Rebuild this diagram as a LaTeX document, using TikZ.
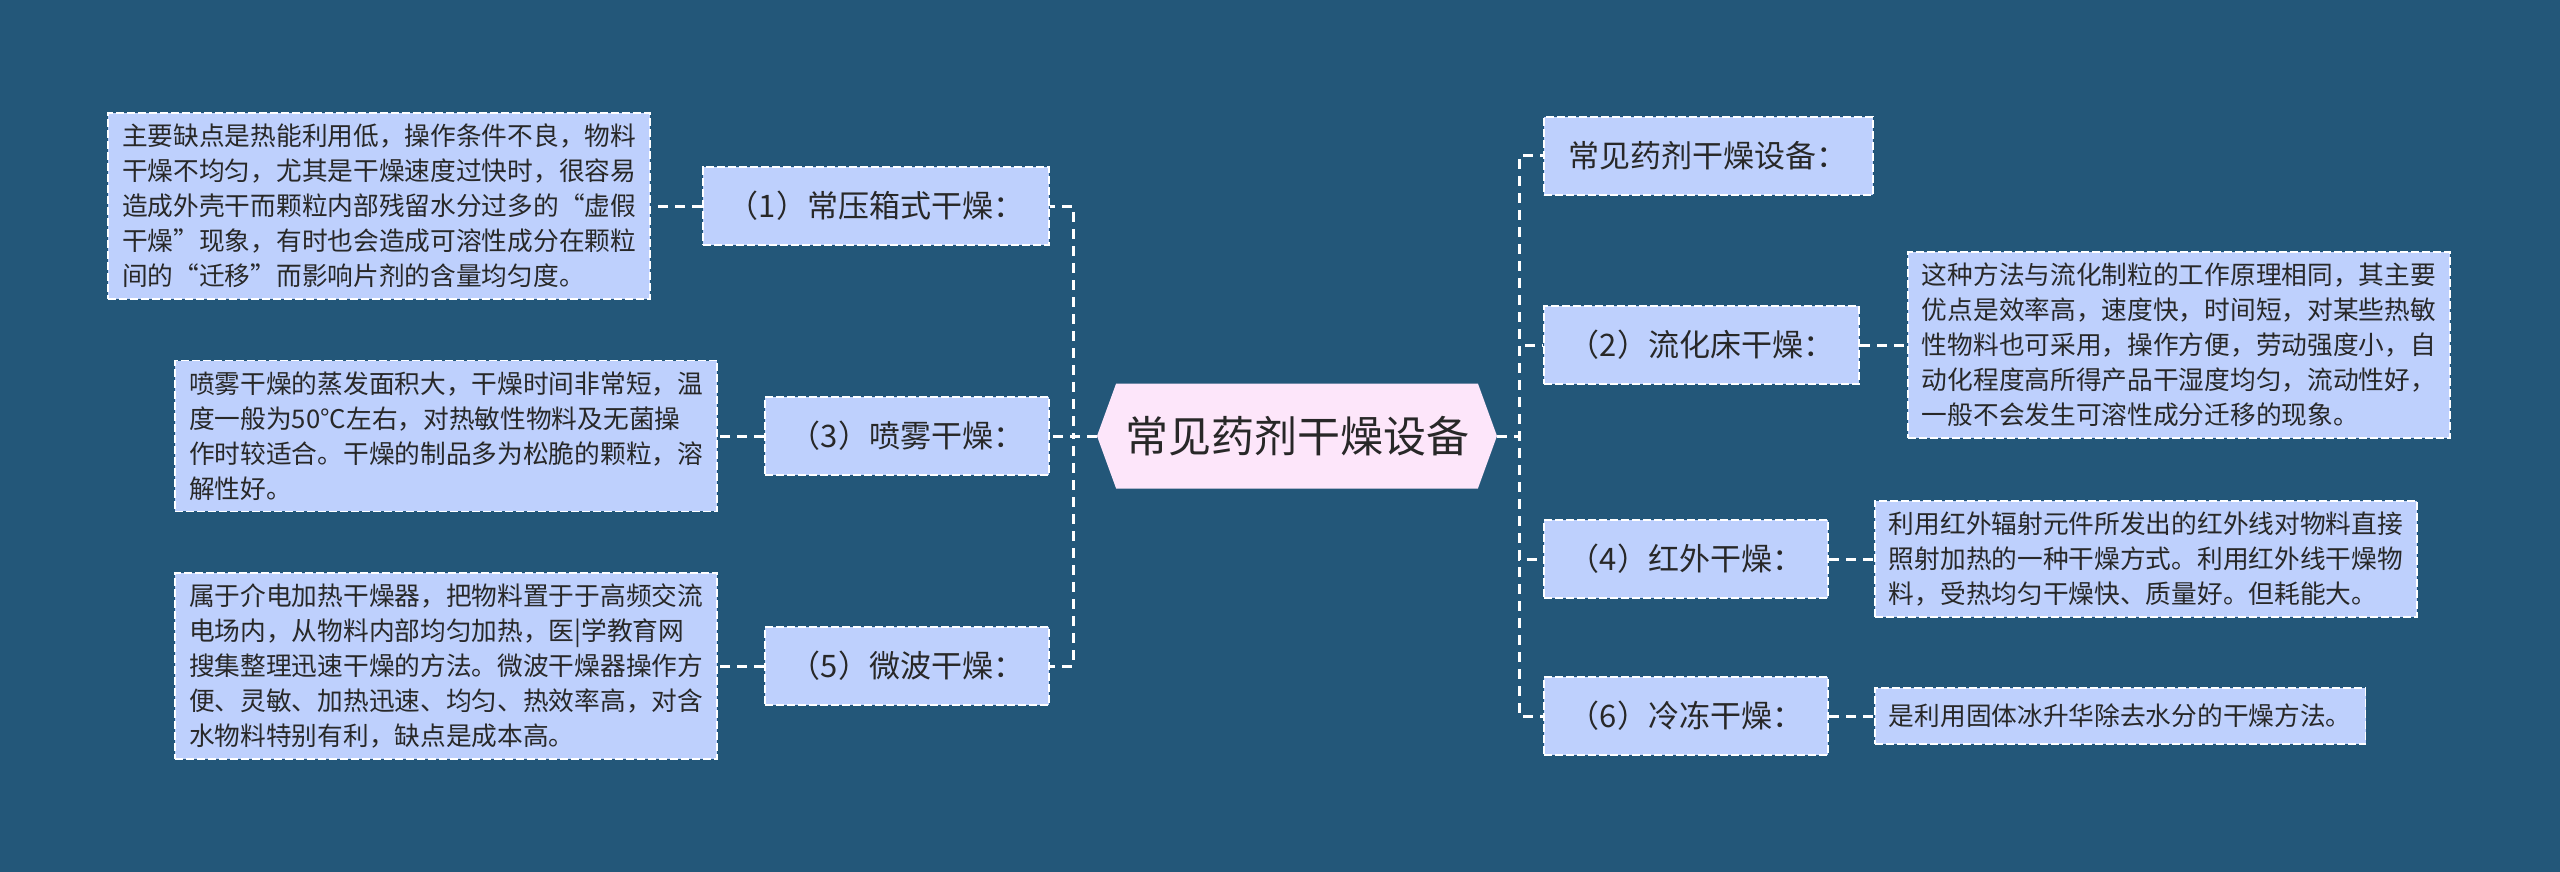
\documentclass[tikz,border=0pt]{standalone}
\usepackage{fontspec}
\setmainfont{Noto Sans CJK SC}
\usetikzlibrary{shapes.symbols}
\definecolor{bgblue}{RGB}{35,87,121}
\definecolor{boxblue}{RGB}{190,208,253}
\definecolor{rootpink}{RGB}{253,230,250}
\definecolor{inkgray}{RGB}{40,40,40}
\tikzset{
  rootnode/.style={shape=signal, signal to=west and east, signal pointer angle=140,
    fill=rootpink, text=inkgray, font=\fontsize{21.5pt}{26pt}\selectfont,
    minimum width=200pt, minimum height=52.5pt, inner sep=0pt},
  branchnode/.style={fill=boxblue, draw=white, line width=0.9pt, dash pattern=on 4pt off 1.5pt,
    text=inkgray, font=\fontsize{15.5pt}{19pt}\selectfont, minimum height=39pt, inner xsep=12.5pt},
  leafnode/.style={fill=boxblue, draw=white, line width=0.9pt, dash pattern=on 4pt off 1.5pt,
    text=inkgray, font=\fontsize{12.85pt}{17.5pt}\selectfont, align=left, inner xsep=7pt, inner ysep=5.5pt,
    minimum height=28pt},
  link/.style={draw=white, line width=1.5pt, dash pattern=on 5pt off 3.5pt},
}
\begin{document}
\begin{tikzpicture}[x=0.5pt, y=-0.5pt]
  \fill[bgblue] (0,0) rectangle (2560,872);
  \useasboundingbox (0,0) rectangle (2560,872);
  % centre
  \node[rootnode] (root) at (1297,436) {常见药剂干燥设备};
  \coordinate (lhub) at (1073,436);
  \coordinate (rhub) at (1519,436);
  % left side
  \node[branchnode, anchor=east] (b1) at (1050,206) {（1）常压箱式干燥：};
  \node[branchnode, anchor=east] (b3) at (1050,436) {（3）喷雾干燥：};
  \node[branchnode, anchor=east] (b5) at (1050,666) {（5）微波干燥：};
  \node[leafnode, anchor=east] (d1) at (651,206) {主要缺点是热能利用低，操作条件不良，物料\\干燥不均匀，尤其是干燥速度过快时，很容易\\造成外壳干而颗粒内部残留水分过多的“虚假\\干燥”现象，有时也会造成可溶性成分在颗粒\\间的“迁移”而影响片剂的含量均匀度。};
  \node[leafnode, anchor=east] (d3) at (718,436) {喷雾干燥的蒸发面积大，干燥时间非常短，温\\度一般为50°C左右，对热敏性物料及无菌操\\作时较适合。干燥的制品多为松脆的颗粒，溶\\解性好。};
  \node[leafnode, anchor=east] (d5) at (718,666) {属于介电加热干燥器，把物料置于于高频交流\\电场内，从物料内部均匀加热，医|学教育网\\搜集整理迅速干燥的方法。微波干燥器操作方\\便、灵敏、加热迅速、均匀、热效率高，对含\\水物料特别有利，缺点是成本高。};
  % right side
  \node[branchnode, anchor=west] (b0) at (1543,156) {常见药剂干燥设备：};
  \node[branchnode, anchor=west] (b2) at (1543,345) {（2）流化床干燥：};
  \node[branchnode, anchor=west] (b4) at (1543,559) {（4）红外干燥：};
  \node[branchnode, anchor=west] (b6) at (1543,716) {（6）冷冻干燥：};
  \node[leafnode, anchor=west] (d2) at (1907,345) {这种方法与流化制粒的工作原理相同，其主要\\优点是效率高，速度快，时间短，对某些热敏\\性物料也可采用，操作方便，劳动强度小，自\\动化程度高所得产品干湿度均匀，流动性好，\\一般不会发生可溶性成分迁移的现象。};
  \node[leafnode, anchor=west] (d4) at (1874,559) {利用红外辐射元件所发出的红外线对物料直接\\照射加热的一种干燥方式。利用红外线干燥物\\料，受热均匀干燥快、质量好。但耗能大。};
  \node[leafnode, anchor=west] (d6) at (1874,716) {是利用固体冰升华除去水分的干燥方法。};
  % links
  \draw[link] (root.west) -- (lhub) |- (b1.east);
  \draw[link] (root.west) -- (lhub) |- (b3.east);
  \draw[link] (root.west) -- (lhub) |- (b5.east);
  \draw[link] (root.east) -- (rhub) |- (b0.west);
  \draw[link] (root.east) -- (rhub) |- (b2.west);
  \draw[link] (root.east) -- (rhub) |- (b4.west);
  \draw[link] (root.east) -- (rhub) |- (b6.west);
  \draw[link] (b1.west) -- (d1.east);
  \draw[link] (b3.west) -- (d3.east);
  \draw[link] (b5.west) -- (d5.east);
  \draw[link] (b2.east) -- (d2.west);
  \draw[link] (b4.east) -- (d4.west);
  \draw[link] (b6.east) -- (d6.west);
\end{tikzpicture}
\end{document}
